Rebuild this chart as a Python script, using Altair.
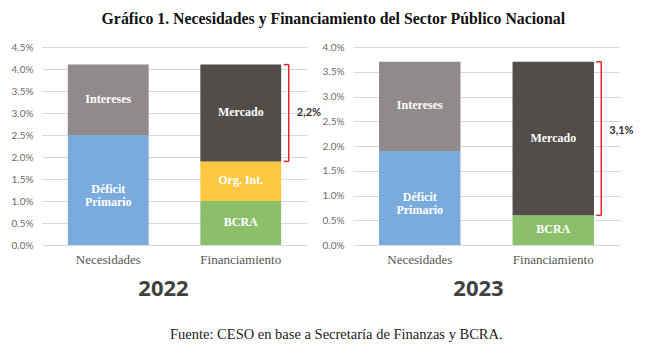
import altair as alt
import pandas as pd

# ---------------- data ----------------
categories = ["Necesidades", "Financiamiento"]

seg_year = ["2022", "2022", "2022", "2022", "2022", "2023", "2023", "2023", "2023"]
seg_cat = ["Necesidades", "Necesidades", "Financiamiento", "Financiamiento", "Financiamiento",
           "Necesidades", "Necesidades", "Financiamiento", "Financiamiento"]
seg_name = ["Déficit Primario", "Intereses", "BCRA", "Org. Int.", "Mercado",
            "Déficit Primario", "Intereses", "BCRA", "Mercado"]
seg_label = ["Déficit\nPrimario", "Intereses", "BCRA", "Org. Int.", "Mercado",
             "Déficit\nPrimario", "Intereses", "BCRA", "Mercado"]
seg_value = [2.5, 1.6, 1.0, 0.9, 2.2, 1.9, 1.8, 0.6, 3.1]

names = ["Déficit Primario", "Intereses", "Mercado", "Org. Int.", "BCRA"]
colors = ["#7aabdc", "#908b8a", "#524d4b", "#fcc741", "#8cbf6b"]

br_year = ["2022", "2023"]
br_low = [1.9, 0.6]
br_high = [4.1, 3.7]
br_text = ["2,2%", "3,1%"]
br_text_y = [3.0, 2.3]

year_max = {"2022": 4.5, "2023": 4.0}
year_ticks = {"2022": [0, 0.5, 1, 1.5, 2, 2.5, 3, 3.5, 4, 4.5],
              "2023": [0, 0.5, 1, 1.5, 2, 2.5, 3, 3.5, 4]}
year_dx = {"2022": -11, "2023": -8}
panel_w = {"2022": 265, "2023": 267}

title_text = "Gráfico 1. Necesidades y Financiamiento del Sector Público Nacional"
footer_text = "Fuente: CESO en base a Secretaría de Finanzas y BCRA."

# ---------------- table ----------------
df = pd.DataFrame({"year": seg_year, "cat": seg_cat, "name": seg_name,
                   "label": seg_label, "value": seg_value})
df["end"] = df.groupby(["year", "cat"])["value"].cumsum()
df["start"] = df["end"] - df["value"]
df["mid"] = (df["start"] + df["end"]) / 2

br = pd.DataFrame({"year": br_year, "low": br_low, "high": br_high,
                   "text": br_text, "ty": br_text_y, "cat": "Financiamiento"})

SERIF = "Liberation Serif"
SANS = "Lato"
RED = "#e3262c"


def panel(year):
    d = df[df.year == year]
    b = br[br.year == year]
    xscale = alt.Scale(paddingInner=0.39, paddingOuter=0.195)
    xaxis = alt.Axis(labelAngle=0, domain=False, ticks=False,
                     labelFont=SERIF, labelFontSize=13,
                     labelColor="#555555", labelPadding=8, grid=False)
    yscale = alt.Scale(domain=[0, year_max[year]], nice=False, zero=True)
    yaxis = alt.Axis(values=year_ticks[year], domain=False, ticks=False,
                     labelPadding=9, grid=True, labelOverlap=False,
                     gridColor="#d9d9d9", gridWidth=1,
                     labelFont=SANS, labelFontSize=10, labelColor="#6b6b6b",
                     labelExpr="format(datum.value, '.1f') + '%'")

    def X():
        return alt.X("cat:N", sort=categories, title=None, scale=xscale, axis=xaxis)

    def Y(f):
        return alt.Y(f, title=None, scale=yscale, axis=yaxis)

    bars = alt.Chart(d).mark_bar().encode(
        x=X(), y=Y("start:Q"), y2="end:Q",
        color=alt.Color("name:N", scale=alt.Scale(domain=names, range=colors), legend=None),
    )
    labels = alt.Chart(d).mark_text(
        font=SERIF, fontSize=12, fontWeight="bold", color="white",
        lineBreak="\n", lineHeight=13, baseline="middle", dy=-1,
    ).encode(x=X(), y=Y("mid:Q"), text="label:N")

    vline = alt.Chart(b).mark_rule(color=RED, strokeWidth=1.5, xOffset=48).encode(
        x=X(), y=Y("low:Q"), y2="high:Q")
    tick_lo = alt.Chart(b).mark_rule(color=RED, strokeWidth=1.5, xOffset=43, x2Offset=48).encode(
        x=X(), x2="cat:N", y=Y("low:Q"))
    tick_hi = alt.Chart(b).mark_rule(color=RED, strokeWidth=1.5, xOffset=43, x2Offset=48).encode(
        x=X(), x2="cat:N", y=Y("high:Q"))
    btext = alt.Chart(b).mark_text(
        font=SANS, fontSize=11, fontWeight="bold", color="#333333",
        align="left", baseline="middle", dx=56,
    ).encode(x=X(), y=Y("ty:Q"), text="text:N")

    return alt.layer(bars, labels, vline, tick_lo, tick_hi, btext).properties(
        width=panel_w[year], height=198,
        title=alt.TitleParams(year, orient="bottom", font="Open Sans", fontSize=22,
                              fontWeight="bold", color="#404040", frame="group",
                              anchor="middle", dx=year_dx[year], offset=13),
    )


inner = alt.hconcat(panel("2022"), panel("2023"), spacing=0).properties(
    title=alt.TitleParams(footer_text, orient="bottom", font=SERIF, fontSize=14.5,
                          fontWeight="normal", color="#222222", anchor="middle",
                          offset=28, dx=14)
)

chart = alt.vconcat(inner).properties(
    title=alt.TitleParams(title_text, font=SERIF, fontSize=15.8, fontWeight="bold",
                          color="#111111", anchor="middle", offset=14, dx=11),
    padding={"left": 11, "top": 11, "right": 5, "bottom": 5},
    background="white",
).configure_view(stroke=None).configure_concat(spacing=0)

chart.save("out.html", embed_options={"renderer": "svg", "actions": False})
